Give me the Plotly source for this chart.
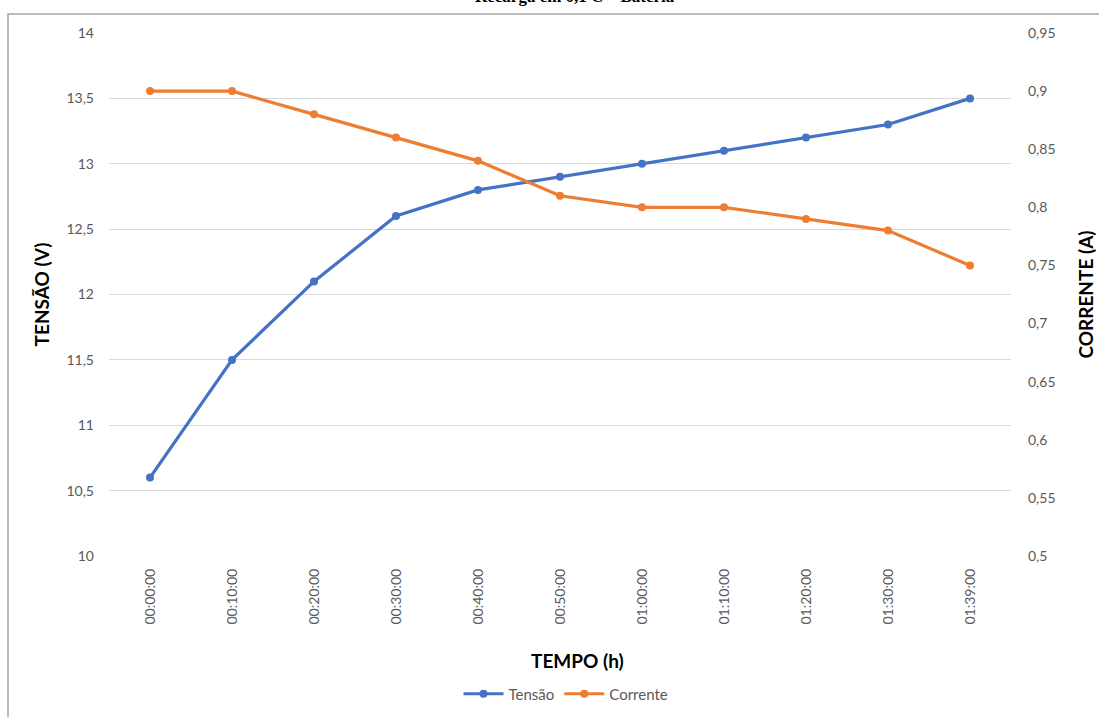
import plotly.graph_objects as go

# Ensaio de carga: tempo x tensão e corrente
tempo = ["00:00:00", "00:10:00", "00:20:00", "00:30:00", "00:40:00", "00:50:00",
         "01:00:00", "01:10:00", "01:20:00", "01:30:00", "01:39:00"]
tensao = [10.6, 11.5, 12.1, 12.6, 12.8, 12.9, 13.0, 13.1, 13.2, 13.3, 13.5]
corrente = [0.90, 0.90, 0.88, 0.86, 0.84, 0.81, 0.80, 0.80, 0.79, 0.78, 0.75]

ticks_v = [10, 10.5, 11, 11.5, 12, 12.5, 13, 13.5, 14]
ticks_a = [0.5, 0.55, 0.6, 0.65, 0.7, 0.75, 0.8, 0.85, 0.9, 0.95]

W, H = 1099, 717
ML, MR, MT, MB = 109, 88, 33, 161
PW, PH = W - ML - MR, H - MT - MB

BLUE = "#4472C4"
ORANGE = "#ED7D31"
GRAY = "#595959"
FONT = "Lato, 'Open Sans', sans-serif"


def fmt(v):
    s = f"{v:g}"
    return s.replace(".", ",")


def px_x(x):
    return (x - ML) / PW


def px_y(y):
    return 1 - (y - MT) / PH


fig = go.Figure()
fig.add_trace(go.Scatter(
    x=tempo, y=tensao, name="Tensão", mode="lines+markers",
    line=dict(color=BLUE, width=3.2), marker=dict(size=8, color=BLUE),
    yaxis="y",
))
fig.add_trace(go.Scatter(
    x=tempo, y=corrente, name="Corrente", mode="lines+markers",
    line=dict(color=ORANGE, width=3.2), marker=dict(size=8, color=ORANGE),
    yaxis="y2",
))

fig.update_layout(
    width=W, height=H,
    margin=dict(l=ML, r=MR, t=MT, b=MB, autoexpand=False),
    paper_bgcolor="white", plot_bgcolor="white",
    font=dict(family=FONT, color=GRAY, size=14),
    showlegend=True,
    legend=dict(
        orientation="h", x=px_x(566), xanchor="center",
        y=px_y(694), yanchor="middle",
        font=dict(size=15, color=GRAY), itemwidth=40,
        traceorder="normal",
    ),
    xaxis=dict(
        type="category", range=[-0.5, len(tempo) - 0.5],
        tickangle=-90, showgrid=False, zeroline=False,
        showline=False, ticks="", tickfont=dict(size=14, color=GRAY),
        ticklabelstandoff=9, automargin=False,
    ),
    yaxis=dict(
        range=[10, 14], tickvals=ticks_v, ticktext=[fmt(v) for v in ticks_v],
        showgrid=True, gridcolor="#D9D9D9", gridwidth=1, zeroline=False,
        showline=False, ticks="", tickfont=dict(size=14, color=GRAY),
        ticklabelstandoff=14, automargin=False,
        title=dict(text="<b>TENSÃO (V)</b>", font=dict(size=19, color="black"),
                   standoff=11),
    ),
    yaxis2=dict(
        range=[0.5, 0.95], tickvals=ticks_a, ticktext=[fmt(v) for v in ticks_a],
        overlaying="y", side="right", showgrid=False, zeroline=False,
        showline=False, ticks="", tickfont=dict(size=14, color=GRAY),
        ticklabelstandoff=16, automargin=False,
        title=dict(text="<b>CORRENTE (A)</b>", font=dict(size=19, color="black"),
                   standoff=25),
    ),
)

# Título do eixo horizontal
fig.add_annotation(
    text="<b>TEMPO (h)</b>", xref="paper", yref="paper",
    x=px_x(577), y=px_y(660), xanchor="center", yanchor="middle",
    showarrow=False, font=dict(family=FONT, size=19, color="black"),
)

# Moldura do gráfico
fig.add_shape(
    type="rect", xref="paper", yref="paper", layer="below",
    x0=px_x(8), x1=px_x(W + 5),
    y0=px_y(H + 5), y1=px_y(14),
    line=dict(color="#A6A6A6", width=1.5), fillcolor="rgba(0,0,0,0)",
)

# Título (cortado na borda superior)
fig.add_annotation(
    text="<b>Recarga em 0,1 C – Bateria</b>", xref="paper", yref="paper",
    x=px_x(575), xanchor="center",
    y=px_y(8), yanchor="bottom", showarrow=False,
    font=dict(family="'Liberation Serif', serif", size=17, color="black"),
)

fig.write_html("out.html")
